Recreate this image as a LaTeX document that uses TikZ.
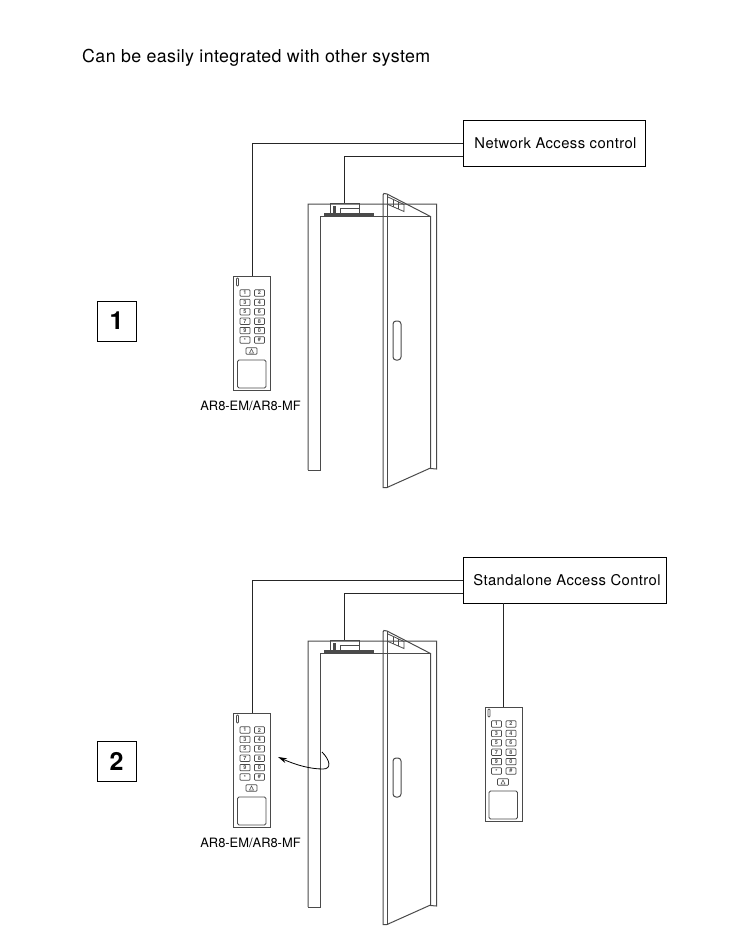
\documentclass[tikz,border=0pt]{standalone}
\usepackage{fontspec}
\setmainfont{TeX Gyre Heros}
\usepackage{tikz}
\usetikzlibrary{arrows,arrows.meta,positioning}

\definecolor{doorline}{HTML}{4A4A4A}
\tikzset{
  wire/.style={draw=black!85,line width=0.8pt},
  doorpen/.style={draw=doorline,line width=1pt},
  infobox/.style={draw=black,line width=0.9pt,minimum height=46pt,inner sep=0pt,font=\fontsize{14.8}{16}\selectfont\addfontfeature{LetterSpace=2.8}},
  numbox/.style={draw=black,line width=1pt,minimum width=39pt,minimum height=40pt,inner sep=0pt,font=\fontsize{25}{27}\selectfont\bfseries},
  padbody/.style={draw=doorline,line width=0.8pt,minimum width=37pt,minimum height=114pt,inner sep=0pt},
  padkey/.style={draw=doorline,line width=0.7pt,rounded corners=0.8pt,minimum width=10pt,minimum height=6.4pt,inner sep=0pt,text=doorline,font=\fontsize{5.5}{5.5}\selectfont\bfseries},
  padlabel/.style={inner sep=0pt,font=\fontsize{12.9}{14}\selectfont},
}

% keypad: name, x of centre, y of top
\newcommand{\keypad}[3]{
  \begin{scope}[shift={(#2,#3)}]
    \node [padbody] (#1) at (0,57) {};
    \draw [doorline,line width=0.7pt,rounded corners=0.8pt] (-15.5,2) rectangle (-13.5,10);
    \foreach \keyname/\keyx/\keyy in {1/-7/17,2/7.5/17,3/-7/26.4,4/7.5/26.4,5/-7/35.8,6/7.5/35.8,7/-7/45.2,8/7.5/45.2,9/-7/54.6,0/7.5/54.6,*/-7/64,\#/7.5/64}
      \node [padkey] at (\keyx,\keyy) {\keyname};
    \node [padkey,minimum width=11pt] (#1bell) at (-0.5,75) {};
    \draw [doorline,line width=0.5pt] (-2.5,77) -- (-0.5,73) -- (1.5,77) -- cycle;
    \draw [doorline,line width=0.8pt,rounded corners=1.5pt] (-14.5,84) rectangle (14,112);
  \end{scope}
}

% door with frame and lock: name, y offset
\newcommand{\doorset}[2]{
  \begin{scope}[shift={(0,#2)}]
    \draw [doorpen] (308,470) -- (308,204) -- (436.5,204) -- (436.5,469) -- (430.5,468.5);
    \draw [doorpen] (308,470) -- (320.5,470) -- (320.5,216.5) -- (430.5,216.5) -- (430.5,468.5);
    \fill [doorline] (324,213) rectangle (374,216.5);
    \node [draw=doorline,line width=0.8pt,minimum width=29pt,minimum height=10pt,inner sep=0pt] (#1lock) at (344.5,208) {};
    \fill [doorline] (333,206) rectangle (336,213);
    \draw [doorline,line width=0.7pt] (340,213) -- (340,208) -- (359,208);
    \draw [doorpen] (387,487.5) -- (383,487.5) -- (383,195) -- (384,193.5) -- (387,194) -- (430.5,216.5) -- (430.5,468) -- cycle;
    \draw [doorpen] (387,194) -- (387,487.5);
    \draw [doorline,line width=0.8pt] (388,197) -- (404,204.5) -- (404,211.5) -- (388,204.5);
    \draw [doorline,line width=0.8pt] (393,199.5) -- (393,207) (398,202) -- (398,209);
    \draw [doorpen,rounded corners=3pt] (393,321) rectangle (401,360);
  \end{scope}
}

\begin{document}
\begin{tikzpicture}[x=1pt,y=-1pt]
  \useasboundingbox (0,0) rectangle (750,952);
  \fill [white] (0,0) rectangle (750,952);

  \node [anchor=west,inner sep=0pt,font=\fontsize{17.8}{20}\selectfont\addfontfeature{LetterSpace=2.3}] (title) at (82,58) {Can be easily integrated with other system};

  % first system
  \doorset{one}{0}
  \keypad{padone}{252}{276}
  \node [numbox] (numone) at (116.5,321) {1};
  \node [padlabel] (labelone) at (250.5,406) {AR8-EM/AR8-MF};
  \node [infobox,minimum width=182pt] (netbox) at (554,143) {\hspace*{3pt}Network Access control};
  \coordinate (netlow) at (463,156);
  \draw [wire] (netbox.west) -| (padone.north);
  \draw [wire] (netlow) -| (onelock.north);

  % second system
  \doorset{two}{437}
  \keypad{padtwo}{252}{713}
  \keypad{padthree}{503.5}{707}
  \node [numbox] (numtwo) at (116.5,761) {2};
  \node [padlabel] (labeltwo) at (250.5,843) {AR8-EM/AR8-MF};
  \node [infobox,minimum width=203pt] (alonebox) at (564.5,580) {\hspace*{5pt}Standalone Access Control};
  \coordinate (alonelow) at (463,593);
  \draw [wire] (alonebox.west) -| (padtwo.north);
  \draw [wire] (alonelow) -| (twolock.north);
  \draw [wire] (alonebox.south -| padthree.north) -- (padthree.north);

  % swing of the door
  \coordinate (swingstart) at (322,752);
  \coordinate (swingend) at (278,757);
  \draw [-{Stealth[length=9pt,width=5pt]},black,line width=0.8pt] (swingstart) .. controls (330,760) and (332,769) .. (323,769) .. controls (310,769) and (296,765) .. (swingend);
\end{tikzpicture}
\end{document}
